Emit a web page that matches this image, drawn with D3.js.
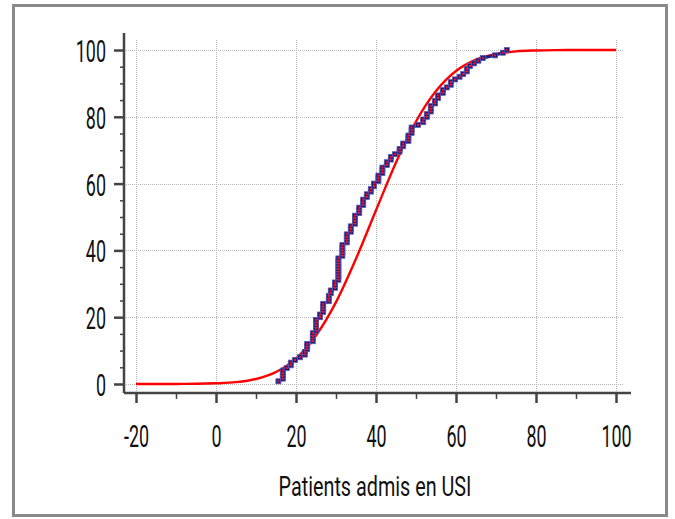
<!DOCTYPE html>
<html>
<head>
<meta charset="utf-8">
<script src="https://cdn.jsdelivr.net/npm/d3@7/dist/d3.min.js"></script>
<style>
  html, body { margin: 0; padding: 0; background: #fff; }
  svg { display: block; }
  text { font-family: Roboto, "Liberation Sans", sans-serif; fill: #111; }
</style>
</head>
<body>
<svg id="chart" width="675" height="519"></svg>
<script>
// Observed values (sorted), one entry per patient
const patientValues = [
  15.6,
  16.7, 16.7, 16.7, 16.7,
  17.7,
  18.7, 18.7,
  19.75,
  21.0,
  22.2, 22.2,
  22.8, 22.8, 22.8,
  24.2, 24.2, 24.2, 24.2,
  25.0, 25.0, 25.0, 25.0, 25.0,
  26.0, 26.0,
  26.8, 26.8, 26.8, 26.8,
  28.2, 28.2, 28.2,
  28.7, 28.7,
  29.75, 29.75, 29.75,
  30.6, 30.6, 30.6, 30.6, 30.6, 30.6, 30.6, 30.6, 30.6,
  31.6, 31.6, 31.6, 31.6, 31.6,
  32.7, 32.7, 32.7, 32.7,
  33.7, 33.7, 33.7,
  34.75, 34.75, 34.75, 34.75,
  35.8, 35.8, 35.8,
  36.8, 36.8, 36.8,
  37.7, 37.7,
  38.7, 38.7,
  39.5, 39.5,
  40.6, 40.6, 40.6,
  41.6, 41.6, 41.6,
  42.7, 42.7,
  43.7, 43.7,
  44.75,
  45.9, 45.9,
  46.8, 46.8,
  48.1, 48.1, 48.1,
  48.9, 48.9, 48.9,
  50.5,
  51.8, 51.8,
  52.7, 52.7,
  53.7, 53.7, 53.7,
  54.75, 54.75,
  55.5, 55.5,
  56.7, 56.7,
  57.7,
  58.7, 58.7,
  59.75,
  60.9,
  61.8,
  62.7, 62.7,
  63.5,
  64.5,
  65.6,
  66.7,
  69.75,
  71.7,
  72.7
];

// Fitted normal distribution, cumulative percentage
const fitX   = [-20, -15, -10, -5, 0, 5, 10, 15, 20, 25, 30, 35, 40, 45, 50, 55, 60, 65, 70, 75, 80, 85, 90, 95, 100];
const fitPct = [0, 0, 0.01, 0.05, 0.2, 0.55, 1.5, 3.6, 7.6, 14.5, 24.5, 37.5, 52.0, 66.3, 78.6, 87.7, 93.7, 97.1, 98.8, 99.6, 99.87, 99.97, 100, 100, 100];

const xTicks = [-20, 0, 20, 40, 60, 80, 100];
const yTicks = [0, 20, 40, 60, 80, 100];
const xLabel = "Patients admis en USI";

const svg = d3.select("#chart");

// Outer frame
svg.append("rect")
  .attr("x", 13.5).attr("y", 5.5)
  .attr("width", 653).attr("height", 510)
  .attr("fill", "#fff")
  .attr("stroke", "#8a8a8a")
  .attr("stroke-width", 3);

const x = d3.scaleLinear().domain([-23, 101.75]).range([124, 623]);
const y = d3.scaleLinear().domain([-2.7, 103]).range([393, 40]);

// Dotted grid
const grid = svg.append("g").attr("stroke", "#b4b4b4").attr("stroke-width", 1)
  .attr("stroke-dasharray", "1,1");
grid.selectAll("line.v").data(xTicks).join("line")
  .attr("x1", d => Math.round(x(d)) + 0.5).attr("x2", d => Math.round(x(d)) + 0.5)
  .attr("y1", y.range()[1]).attr("y2", y.range()[0]);
grid.selectAll("line.h").data(yTicks).join("line")
  .attr("y1", d => Math.round(y(d)) + 0.5).attr("y2", d => Math.round(y(d)) + 0.5)
  .attr("x1", x.range()[0]).attr("x2", x.range()[1]);

// Axes
const axisColor = "#444";
const xAxisY = 393, yAxisX = 124;
const labelScale = 0.56;

const xMinor = d3.range(-10, 100, 20);
const yMinor = d3.range(0, 101, 5).filter(v => v % 20 !== 0);

const gx = svg.append("g").attr("transform", `translate(0,${xAxisY})`);
gx.call(d3.axisBottom(x).tickValues(xMinor).tickSize(6).tickFormat(""))
  .call(g => g.select(".domain").remove())
  .call(g => g.selectAll("line").attr("stroke", axisColor).attr("stroke-width", 1.5));
const gx2 = svg.append("g").attr("transform", `translate(0,${xAxisY})`);
gx2.call(d3.axisBottom(x).tickValues(xTicks).tickSize(10).tickPadding(0).tickFormat(d3.format("d")))
  .call(g => g.select(".domain").remove())
  .call(g => g.selectAll("line").attr("stroke", axisColor).attr("stroke-width", 2.5))
  .call(g => g.selectAll("text")
    .attr("y", 0)
    .attr("dy", 0)
    .attr("font-size", 32)
    .attr("fill", "#111")
    .attr("transform", `translate(0,54) scale(${labelScale},1)`)
    .text(d => d < 0 ? "-" + Math.abs(d) : d));

const gy = svg.append("g").attr("transform", `translate(${yAxisX},0)`);
gy.call(d3.axisLeft(y).tickValues(yMinor).tickSize(4).tickFormat(""))
  .call(g => g.select(".domain").remove())
  .call(g => g.selectAll("line").attr("stroke", axisColor).attr("stroke-width", 1.5));
const gy2 = svg.append("g").attr("transform", `translate(${yAxisX},0)`);
gy2.call(d3.axisLeft(y).tickValues(yTicks).tickSize(10).tickFormat(d3.format("d")))
  .call(g => g.select(".domain").remove())
  .call(g => g.selectAll("line").attr("stroke", axisColor).attr("stroke-width", 2.5))
  .call(g => g.selectAll("text")
    .attr("x", 0).attr("dy", 0)
    .attr("font-size", 32)
    .attr("fill", "#111")
    .attr("text-anchor", "end")
    .attr("transform", `translate(-18,11.5) scale(${labelScale},1)`));

// Axis lines
svg.append("line").attr("x1", yAxisX).attr("x2", 631).attr("y1", xAxisY).attr("y2", xAxisY)
  .attr("stroke", axisColor).attr("stroke-width", 2.5);
svg.append("line").attr("x1", yAxisX).attr("x2", yAxisX).attr("y1", 33).attr("y2", xAxisY)
  .attr("stroke", axisColor).attr("stroke-width", 2.5);

// Axis title, narrowed to a condensed look
const title = svg.append("text")
  .attr("font-size", 28)
  .attr("text-anchor", "middle")
  .attr("fill", "#111")
  .text(xLabel);
const tw = title.node().getComputedTextLength();
title.attr("transform", `translate(375,496) scale(${193 / tw},1)`);

// Empirical cumulative distribution
const n = patientValues.length;
const ecdf = patientValues.map((v, i) => ({ x: v, p: (i + 1) / n * 100 }));

const plot = svg.append("g");

// Fitted curve
const fit = fitX.map((v, i) => ({ x: v, p: fitPct[i] }));
plot.append("path")
  .datum(fit)
  .attr("fill", "none")
  .attr("stroke", "#ff0000")
  .attr("stroke-width", 2.4)
  .attr("d", d3.line().x(d => x(d.x)).y(d => y(d.p)).curve(d3.curveMonotoneX));

plot.append("path")
  .datum(ecdf)
  .attr("fill", "none")
  .attr("stroke", "#1f1f88")
  .attr("stroke-width", 3)
  .attr("d", d3.line().x(d => x(d.x)).y(d => y(d.p)));

plot.selectAll("rect.m").data(ecdf).join("rect")
  .attr("class", "m")
  .attr("x", d => x(d.x) - 2.5).attr("y", d => y(d.p) - 2.5)
  .attr("width", 5).attr("height", 5)
  .attr("fill", "#1a1a80")
  .attr("stroke", "#5a5ab4").attr("stroke-width", 0.8);

plot.selectAll("rect.c").data(ecdf).join("rect")
  .attr("class", "c")
  .attr("x", d => x(d.x) - 1).attr("y", d => y(d.p) - 1)
  .attr("width", 2).attr("height", 2)
  .attr("fill", "#ff1010");
</script>
</body>
</html>
